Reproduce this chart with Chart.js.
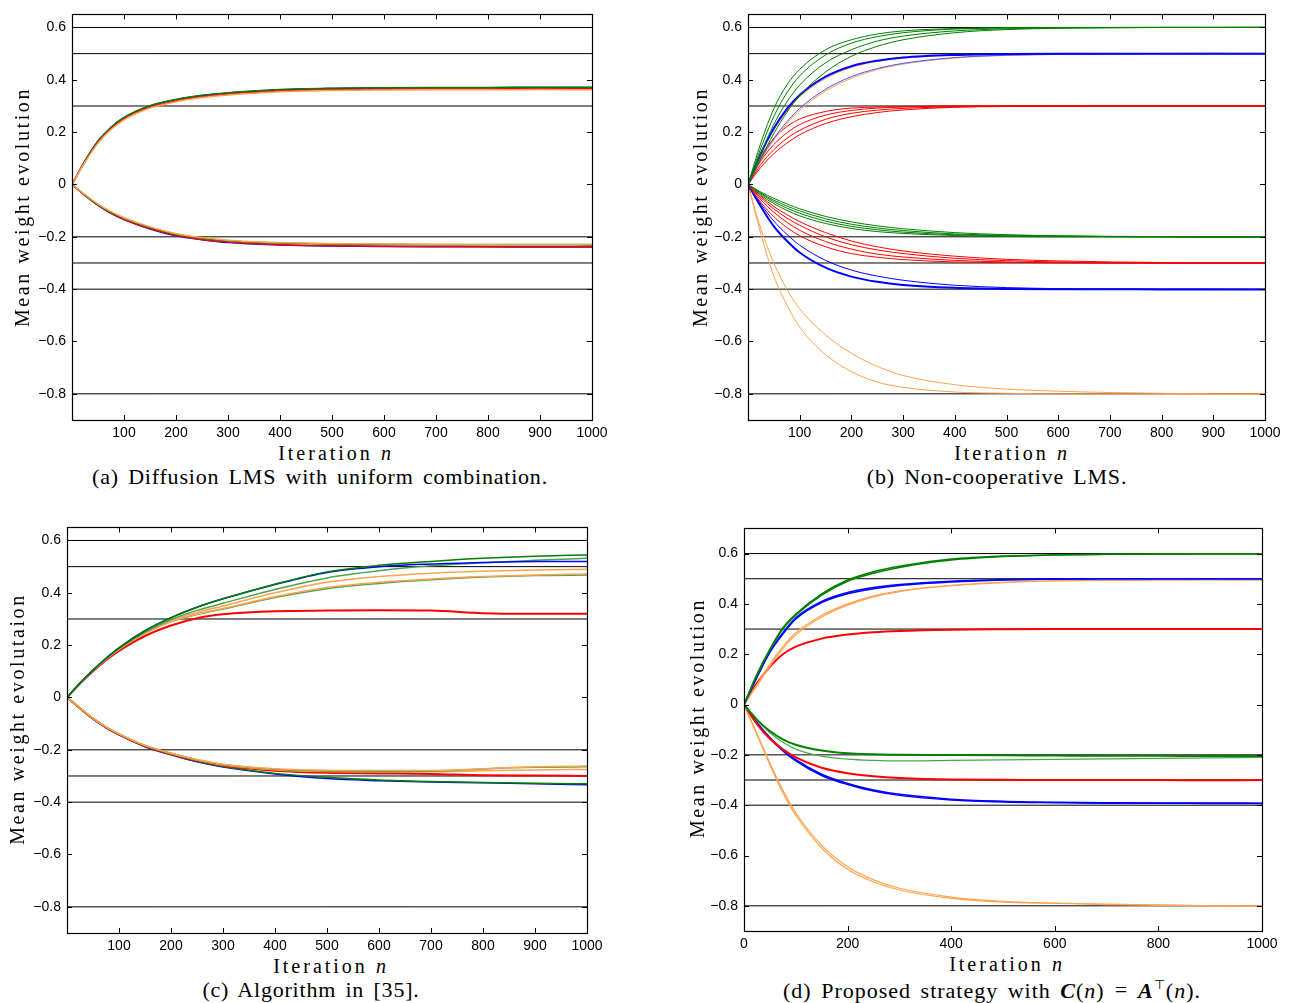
<!DOCTYPE html>
<html>
<head>
<meta charset="utf-8">
<script src="https://cdn.jsdelivr.net/npm/chart.js@4.4.1/dist/chart.umd.min.js"></script>
<style>
body { margin:0; width:1293px; height:1003px; background:#fff; position:relative; overflow:hidden; }
canvas { position:absolute; }
.t { position:absolute; font-family:"Liberation Serif", "Times New Roman", serif; color:#000; white-space:nowrap; line-height:1; }
.xt { font-size:20px; letter-spacing:3px; transform:translate(-50%,-50%); }
.yt { font-size:20px; letter-spacing:2.6px; transform:translate(-50%,-50%) rotate(-90deg); }
.cap { font-size:22px; letter-spacing:0.8px; word-spacing:3px; transform:translate(-50%,-50%); }
.eq { margin:0 10px; }
</style>
</head>
<body>
<canvas id="chartA" width="620" height="440" style="left:0;top:0"></canvas>
<canvas id="chartB" width="617" height="440" style="left:676px;top:0"></canvas>
<canvas id="chartC" width="615" height="440" style="left:0;top:513px"></canvas>
<canvas id="chartD" width="618" height="437" style="left:672px;top:514px"></canvas>

<div class="t xt" style="left:336px;top:453px">Iteration <i>n</i></div>
<div class="t cap" style="left:320px;top:477px">(a) Diffusion LMS with uniform combination.</div>
<div class="t yt" style="left:22px;top:207px">Mean weight evolution</div>

<div class="t xt" style="left:1012px;top:453px">Iteration <i>n</i></div>
<div class="t cap" style="left:997px;top:477px">(b) Non-cooperative LMS.</div>
<div class="t yt" style="left:700px;top:207px">Mean weight evolution</div>

<div class="t xt" style="left:331px;top:966px">Iteration <i>n</i></div>
<div class="t cap" style="left:311px;top:990px">(c) Algorithm in [35].</div>
<div class="t yt" style="left:17px;top:719px">Mean weight evolutaion</div>

<div class="t xt" style="left:1007px;top:964px">Iteration <i>n</i></div>
<div class="t cap" style="left:992px;top:990px;letter-spacing:1px">(d) Proposed strategy with <b><i>C</i></b>(<i>n</i>)<span class="eq">=</span><b><i>A</i></b><sup style="font-size:13px">&#8868;</sup>(<i>n</i>).</div>
<div class="t yt" style="left:697px;top:718px">Mean weight evolution</div>

<script>
// sample iterations shared by every curve
var iterations = [0, 25, 50, 75, 100, 150, 200, 250, 300, 400, 500, 600, 700, 800, 900, 1000];
var trueWeights = [0.6, 0.5, 0.3, -0.2, -0.3, -0.4, -0.8];
var xTicksABC = [100, 200, 300, 400, 500, 600, 700, 800, 900, 1000];
var xTicksD = [0, 200, 400, 600, 800, 1000];
var yTickValues = [-0.8, -0.6, -0.4, -0.2, 0, 0.2, 0.4, 0.6];
var yTickLabels = ['\u22120.8', '\u22120.6', '\u22120.4', '\u22120.2', '0', '0.2', '0.4', '0.6'];

// (a) diffusion LMS, uniform combination
var aUpBlue    = [0, 0.09, 0.165, 0.218, 0.255, 0.3, 0.324, 0.34, 0.35, 0.362, 0.367, 0.369, 0.37, 0.37, 0.371, 0.371];
var aUpGreen   = [0, 0.09, 0.166, 0.219, 0.256, 0.301, 0.325, 0.341, 0.351, 0.363, 0.368, 0.37, 0.371, 0.371, 0.372, 0.372];
var aUpRed     = [0, 0.087, 0.161, 0.213, 0.25, 0.295, 0.319, 0.335, 0.345, 0.357, 0.362, 0.364, 0.365, 0.365, 0.366, 0.366];
var aUpOrange  = [0, 0.085, 0.158, 0.21, 0.247, 0.292, 0.316, 0.332, 0.342, 0.354, 0.359, 0.361, 0.362, 0.362, 0.363, 0.362];
var aLowBlue   = [0, -0.042, -0.08, -0.11, -0.134, -0.17, -0.196, -0.211, -0.222, -0.231, -0.235, -0.237, -0.238, -0.238, -0.239, -0.239];
var aLowRed    = [0, -0.042, -0.079, -0.109, -0.133, -0.168, -0.194, -0.21, -0.22, -0.23, -0.234, -0.236, -0.237, -0.238, -0.238, -0.238];
var aLowGreen  = [0, -0.04, -0.077, -0.106, -0.129, -0.164, -0.19, -0.205, -0.215, -0.224, -0.228, -0.229, -0.23, -0.23, -0.23, -0.231];
var aLowOrange = [0, -0.039, -0.075, -0.104, -0.127, -0.162, -0.188, -0.203, -0.213, -0.222, -0.226, -0.227, -0.228, -0.228, -0.228, -0.228];

// (b) non-cooperative LMS
var bUpGreen = [
    [0, 0.16, 0.29, 0.38, 0.44, 0.515, 0.553, 0.575, 0.587, 0.596, 0.599, 0.6, 0.6, 0.601, 0.6, 0.601],
    [0, 0.14, 0.26, 0.35, 0.415, 0.495, 0.54, 0.565, 0.58, 0.594, 0.598, 0.6, 0.6, 0.6, 0.601, 0.601],
    [0, 0.12, 0.23, 0.315, 0.38, 0.465, 0.515, 0.548, 0.567, 0.587, 0.595, 0.598, 0.599, 0.6, 0.6, 0.6],
    [0, 0.1, 0.195, 0.275, 0.34, 0.43, 0.49, 0.528, 0.553, 0.58, 0.592, 0.597, 0.599, 0.6, 0.6, 0.6]
];
var bUpBlue = [
    [0, 0.12, 0.215, 0.288, 0.342, 0.412, 0.452, 0.473, 0.485, 0.495, 0.499, 0.5, 0.5, 0.5, 0.5, 0.5],
    [0, 0.098, 0.176, 0.239, 0.291, 0.364, 0.412, 0.443, 0.463, 0.485, 0.494, 0.497, 0.499, 0.5, 0.5, 0.5]
];
var bUpOrange = [
    [0, 0.115, 0.208, 0.28, 0.335, 0.405, 0.447, 0.47, 0.483, 0.494, 0.498, 0.5, 0.501, 0.5, 0.501, 0.5],
    [0, 0.094, 0.17, 0.232, 0.284, 0.357, 0.406, 0.439, 0.46, 0.483, 0.493, 0.497, 0.499, 0.501, 0.502, 0.501]
];
var bUpRed = [
    [0, 0.108, 0.176, 0.221, 0.25, 0.279, 0.292, 0.296, 0.298, 0.3, 0.3, 0.3, 0.301, 0.3, 0.301, 0.3],
    [0, 0.09, 0.153, 0.197, 0.229, 0.265, 0.283, 0.292, 0.296, 0.299, 0.3, 0.3, 0.3, 0.301, 0.3, 0.3],
    [0, 0.077, 0.133, 0.176, 0.207, 0.249, 0.272, 0.284, 0.291, 0.297, 0.299, 0.3, 0.3, 0.3, 0.3, 0.301],
    [0, 0.066, 0.118, 0.158, 0.19, 0.233, 0.259, 0.275, 0.285, 0.295, 0.298, 0.299, 0.3, 0.3, 0.3, 0.3]
];
var bLowGreen = [
    [0, -0.041, -0.073, -0.099, -0.12, -0.149, -0.168, -0.18, -0.187, -0.195, -0.198, -0.2, -0.2, -0.2, -0.201, -0.2],
    [0, -0.036, -0.066, -0.09, -0.11, -0.14, -0.16, -0.173, -0.182, -0.192, -0.196, -0.198, -0.199, -0.2, -0.2, -0.201],
    [0, -0.033, -0.06, -0.082, -0.101, -0.131, -0.152, -0.166, -0.176, -0.189, -0.194, -0.197, -0.199, -0.2, -0.2, -0.2],
    [0, -0.029, -0.053, -0.074, -0.093, -0.122, -0.143, -0.158, -0.169, -0.184, -0.192, -0.196, -0.198, -0.199, -0.201, -0.2]
];
var bLowRed = [
    [0, -0.069, -0.123, -0.164, -0.196, -0.238, -0.264, -0.278, -0.287, -0.296, -0.298, -0.299, -0.3, -0.3, -0.301, -0.3],
    [0, -0.059, -0.106, -0.144, -0.175, -0.218, -0.247, -0.266, -0.277, -0.29, -0.296, -0.299, -0.3, -0.3, -0.3, -0.301],
    [0, -0.051, -0.093, -0.128, -0.156, -0.2, -0.23, -0.25, -0.264, -0.282, -0.291, -0.296, -0.298, -0.3, -0.3, -0.3],
    [0, -0.045, -0.084, -0.115, -0.142, -0.184, -0.216, -0.238, -0.254, -0.274, -0.286, -0.292, -0.296, -0.298, -0.301, -0.3]
];
var bLowBlue = [
    [0, -0.085, -0.16, -0.215, -0.26, -0.318, -0.352, -0.372, -0.384, -0.395, -0.399, -0.4, -0.4, -0.401, -0.401, -0.401],
    [0, -0.075, -0.14, -0.19, -0.232, -0.29, -0.327, -0.35, -0.366, -0.385, -0.394, -0.398, -0.4, -0.4, -0.4, -0.401]
];
var bLowOrange = [
    [0, -0.19, -0.35, -0.46, -0.545, -0.65, -0.715, -0.755, -0.775, -0.793, -0.798, -0.8, -0.8, -0.801, -0.801, -0.801],
    [0, -0.17, -0.3, -0.4, -0.475, -0.575, -0.645, -0.695, -0.73, -0.765, -0.782, -0.79, -0.795, -0.798, -0.8, -0.8]
];

// (c) algorithm in [35]
var cUpGreen = [
    [0, 0.055, 0.105, 0.15, 0.19, 0.255, 0.305, 0.345, 0.377, 0.433, 0.48, 0.505, 0.52, 0.532, 0.54, 0.545],
    [0, 0.055, 0.104, 0.148, 0.187, 0.25, 0.298, 0.333, 0.36, 0.413, 0.457, 0.484, 0.503, 0.515, 0.524, 0.532],
    [0, 0.054, 0.103, 0.146, 0.184, 0.245, 0.29, 0.317, 0.338, 0.382, 0.416, 0.436, 0.45, 0.46, 0.466, 0.468]
];
var cUpBlue   = [0, 0.055, 0.105, 0.15, 0.19, 0.255, 0.305, 0.345, 0.377, 0.432, 0.478, 0.5, 0.51, 0.516, 0.52, 0.52];
var cUpOrange = [
    [0, 0.055, 0.104, 0.148, 0.186, 0.248, 0.294, 0.325, 0.35, 0.4, 0.44, 0.462, 0.475, 0.482, 0.487, 0.49],
    [0, 0.054, 0.103, 0.146, 0.184, 0.245, 0.29, 0.318, 0.34, 0.385, 0.42, 0.44, 0.453, 0.462, 0.468, 0.472]
];
var cUpRed    = [0, 0.053, 0.1, 0.142, 0.178, 0.235, 0.275, 0.303, 0.318, 0.33, 0.332, 0.333, 0.332, 0.322, 0.32, 0.32];
var cLowOrange = [
    [0, -0.04, -0.079, -0.112, -0.139, -0.183, -0.213, -0.237, -0.255, -0.272, -0.278, -0.279, -0.279, -0.272, -0.265, -0.262],
    [0, -0.04, -0.08, -0.113, -0.14, -0.184, -0.214, -0.239, -0.258, -0.276, -0.283, -0.284, -0.284, -0.28, -0.277, -0.275]
];
var cLowGreen = [
    [0, -0.04, -0.079, -0.112, -0.139, -0.183, -0.213, -0.238, -0.256, -0.274, -0.281, -0.284, -0.282, -0.273, -0.267, -0.265],
    [0, -0.041, -0.081, -0.115, -0.142, -0.187, -0.218, -0.244, -0.264, -0.29, -0.305, -0.315, -0.321, -0.325, -0.328, -0.33]
];
var cLowRed  = [0, -0.041, -0.081, -0.114, -0.141, -0.186, -0.216, -0.241, -0.26, -0.28, -0.288, -0.29, -0.292, -0.297, -0.298, -0.3];
var cLowBlue = [0, -0.042, -0.082, -0.116, -0.143, -0.188, -0.219, -0.246, -0.266, -0.292, -0.31, -0.318, -0.323, -0.326, -0.33, -0.333];

// (d) proposed strategy
var dUpGreen = [
    [0, 0.12, 0.22, 0.305, 0.36, 0.44, 0.495, 0.528, 0.55, 0.578, 0.59, 0.595, 0.597, 0.598, 0.598, 0.598],
    [0, 0.118, 0.217, 0.3, 0.355, 0.435, 0.49, 0.522, 0.545, 0.574, 0.588, 0.594, 0.597, 0.598, 0.599, 0.599]
];
var dUpBlue = [
    [0, 0.11, 0.21, 0.285, 0.345, 0.41, 0.445, 0.465, 0.477, 0.49, 0.496, 0.499, 0.5, 0.5, 0.5, 0.5],
    [0, 0.108, 0.207, 0.28, 0.34, 0.405, 0.44, 0.46, 0.473, 0.487, 0.495, 0.498, 0.5, 0.5, 0.5, 0.5]
];
var dUpOrange = [
    [0, 0.08, 0.16, 0.23, 0.285, 0.355, 0.4, 0.432, 0.452, 0.474, 0.486, 0.492, 0.494, 0.495, 0.495, 0.495],
    [0, 0.075, 0.152, 0.222, 0.277, 0.348, 0.395, 0.428, 0.449, 0.472, 0.484, 0.491, 0.494, 0.495, 0.496, 0.495]
];
var dUpRed = [0, 0.085, 0.15, 0.2, 0.23, 0.262, 0.278, 0.287, 0.292, 0.297, 0.299, 0.3, 0.3, 0.3, 0.3, 0.3];
var dLowGreen      = [0, -0.06, -0.105, -0.138, -0.16, -0.183, -0.194, -0.198, -0.2, -0.201, -0.202, -0.203, -0.204, -0.204, -0.205, -0.205];
var dLowLightGreen = [0, -0.062, -0.112, -0.15, -0.177, -0.205, -0.217, -0.222, -0.224, -0.222, -0.22, -0.218, -0.216, -0.214, -0.212, -0.21];
var dLowRed = [0, -0.078, -0.136, -0.178, -0.21, -0.251, -0.273, -0.285, -0.292, -0.298, -0.299, -0.3, -0.3, -0.3, -0.301, -0.3];
var dLowBlue = [
    [0, -0.074, -0.135, -0.184, -0.224, -0.282, -0.318, -0.344, -0.361, -0.379, -0.387, -0.39, -0.392, -0.392, -0.393, -0.393],
    [0, -0.071, -0.131, -0.179, -0.219, -0.277, -0.314, -0.34, -0.357, -0.376, -0.384, -0.388, -0.39, -0.391, -0.391, -0.392]
];
var dLowOrange = [
    [0, -0.12, -0.24, -0.35, -0.44, -0.57, -0.655, -0.705, -0.737, -0.77, -0.785, -0.79, -0.795, -0.797, -0.8, -0.801],
    [0, -0.115, -0.232, -0.34, -0.43, -0.56, -0.645, -0.697, -0.73, -0.765, -0.782, -0.789, -0.793, -0.797, -0.799, -0.8]
];

var BLUE = '#0000ff';
var GREEN = '#008000';
var LIGHTGREEN = '#4aa54a';
var RED = '#ff0000';
var ORANGE = '#ffa24f';

function curve(values, color, width) {
    var pts = [];
    for (var i = 0; i < values.length; i++) {
        pts.push({x: iterations[i], y: values[i]});
    }
    return {
        data: pts,
        borderColor: color,
        borderWidth: width || 1,
        pointRadius: 0,
        fill: false,
        cubicInterpolationMode: 'monotone',
        order: 0
    };
}

function refLines() {
    return trueWeights.map(function (w) {
        return {
            data: [{x: 0, y: w}, {x: 1000, y: w}],
            borderColor: '#000',
            borderWidth: 1,
            pointRadius: 0,
            fill: false,
            order: 10
        };
    });
}

// box around the plot with inward ticks on all four sides
var boxPlugin = {
    id: 'boxTicks',
    afterDatasetsDraw: function (chart) {
        var ctx = chart.ctx;
        var a = chart.chartArea;
        var xs = chart.scales.x, ys = chart.scales.y;
        ctx.save();
        ctx.strokeStyle = '#000';
        ctx.lineWidth = 1;
        ctx.beginPath();
        xs.ticks.forEach(function (t) {
            var px = Math.round(xs.getPixelForValue(t.value)) + 0.5;
            ctx.moveTo(px, a.bottom); ctx.lineTo(px, a.bottom - 5);
            ctx.moveTo(px, a.top); ctx.lineTo(px, a.top + 5);
        });
        ys.ticks.forEach(function (t) {
            var py = Math.round(ys.getPixelForValue(t.value)) + 0.5;
            ctx.moveTo(a.left, py); ctx.lineTo(a.left + 5, py);
            ctx.moveTo(a.right, py); ctx.lineTo(a.right - 5, py);
        });
        ctx.stroke();
        ctx.lineWidth = 1.2;
        ctx.strokeRect(Math.round(a.left) + 0.5, Math.round(a.top) + 0.5,
            Math.round(a.right - a.left), Math.round(a.bottom - a.top));
        ctx.restore();
    }
};

function buildPanel(id, datasets, yMax, xTicks, leftWidth) {
    var ctx = document.getElementById(id).getContext('2d');
    return new Chart(ctx, {
        type: 'line',
        data: {datasets: datasets.concat(refLines())},
        options: {
            responsive: false,
            animation: false,
            events: [],
            layout: {padding: {left: 0, right: 28, top: 10, bottom: 0}},
            plugins: {legend: {display: false}, tooltip: {enabled: false}},
            scales: {
                x: {
                    type: 'linear',
                    min: 0,
                    max: 1000,
                    grid: {display: false, drawTicks: false},
                    border: {display: false},
                    afterBuildTicks: function (s) {
                        s.ticks = xTicks.map(function (v) { return {value: v}; });
                    },
                    afterFit: function (s) { s.height = 20; },
                    ticks: {
                        autoSkip: false,
                        maxRotation: 0,
                        padding: 5,
                        color: '#000',
                        font: {family: '"Liberation Sans", Arial, sans-serif', size: 14},
                        callback: function (v) { return String(v); }
                    }
                },
                y: {
                    type: 'linear',
                    min: -0.9,
                    max: yMax,
                    grid: {display: false, drawTicks: false},
                    border: {display: false},
                    afterBuildTicks: function (s) {
                        s.ticks = yTickValues.map(function (v) { return {value: v}; });
                    },
                    afterFit: function (s) { s.width = leftWidth; },
                    ticks: {
                        autoSkip: false,
                        padding: 6,
                        color: '#000',
                        font: {family: '"Liberation Sans", Arial, sans-serif', size: 14},
                        callback: function (v) {
                            var i = yTickValues.indexOf(v);
                            return i >= 0 ? yTickLabels[i] : '';
                        }
                    }
                }
            }
        },
        plugins: [boxPlugin]
    });
}

var setA = [
    curve(aUpOrange, ORANGE, 1.5), curve(aUpRed, RED, 1.5), curve(aUpGreen, GREEN, 1.5), curve(aUpBlue, BLUE, 1.5),
    curve(aLowOrange, ORANGE, 1.5), curve(aLowGreen, GREEN, 1.5), curve(aLowRed, RED, 1.5), curve(aLowBlue, BLUE, 1.5)
];

var setB = [];
bUpGreen.forEach(function (v) { setB.push(curve(v, GREEN, 1)); });
setB.push(curve(bUpBlue[0], BLUE, 2));
setB.push(curve(bUpBlue[1], '#5050ff', 1));
bUpOrange.forEach(function (v) { setB.push(curve(v, ORANGE, 1)); });
bUpRed.forEach(function (v) { setB.push(curve(v, RED, 1)); });
bLowGreen.forEach(function (v) { setB.push(curve(v, GREEN, 1)); });
bLowRed.forEach(function (v) { setB.push(curve(v, RED, 1)); });
setB.push(curve(bLowBlue[0], BLUE, 2));
setB.push(curve(bLowBlue[1], BLUE, 1));
bLowOrange.forEach(function (v) { setB.push(curve(v, ORANGE, 1)); });

var setC = [
    curve(cUpGreen[0], GREEN, 1.5), curve(cUpBlue, BLUE, 1.5), curve(cUpGreen[1], LIGHTGREEN, 1.5),
    curve(cUpOrange[0], ORANGE, 1.5), curve(cUpOrange[1], ORANGE, 1.5), curve(cUpGreen[2], LIGHTGREEN, 1.5),
    curve(cUpRed, RED, 2),
    curve(cLowOrange[0], ORANGE, 1.5), curve(cLowGreen[0], LIGHTGREEN, 1.5), curve(cLowOrange[1], ORANGE, 1.5),
    curve(cLowRed, RED, 2), curve(cLowGreen[1], GREEN, 1.5), curve(cLowBlue, BLUE, 1.5)
];

var setD = [
    curve(dUpGreen[0], GREEN, 1.5), curve(dUpGreen[1], GREEN, 1.5),
    curve(dUpBlue[0], BLUE, 1.5), curve(dUpBlue[1], BLUE, 1.5),
    curve(dUpOrange[0], ORANGE, 1.2), curve(dUpOrange[1], ORANGE, 1.2),
    curve(dUpRed, RED, 2),
    curve(dLowGreen, GREEN, 2), curve(dLowLightGreen, LIGHTGREEN, 1.2),
    curve(dLowRed, RED, 2),
    curve(dLowBlue[0], BLUE, 1.5), curve(dLowBlue[1], BLUE, 1.5),
    curve(dLowOrange[0], ORANGE, 1.2), curve(dLowOrange[1], ORANGE, 1.2)
];

buildPanel('chartA', setA, 0.65, xTicksABC, 72);
buildPanel('chartB', setB, 0.65, xTicksABC, 72);
buildPanel('chartC', setC, 0.65, xTicksABC, 67);
buildPanel('chartD', setD, 0.7, xTicksD, 72);
</script>
</body>
</html>
